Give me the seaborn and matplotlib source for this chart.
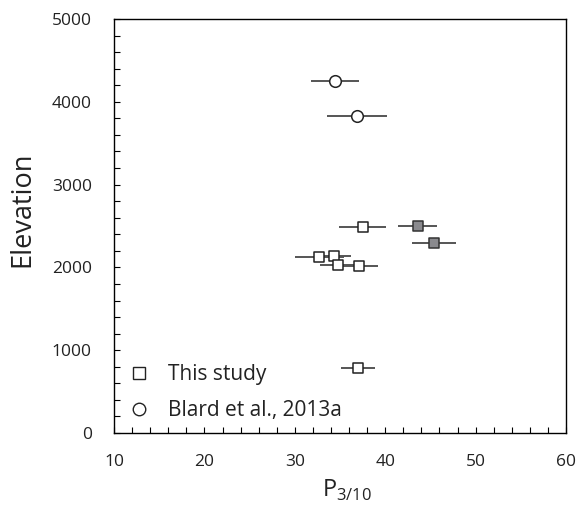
import matplotlib
matplotlib.use("Agg")
import matplotlib.pyplot as plt
from matplotlib.lines import Line2D
from matplotlib.ticker import MultipleLocator
import seaborn as sns
import pandas as pd

# Data
study_p = [37.5, 32.7, 34.3, 34.8, 37.1, 37.0]
study_elev = [2490, 2120, 2140, 2030, 2015, 790]
study_err = [2.6, 2.7, 1.9, 2.0, 2.1, 1.85]

gray_p = [43.6, 45.4]
gray_elev = [2500, 2300]
gray_err = [2.15, 2.4]

blard_p = [34.45, 36.9]
blard_elev = [4255, 3830]
blard_err = [2.65, 3.3]

legend_labels = ["This study", "Blard et al., 2013a"]

sns.set_theme(style="white")
plt.rcParams["font.family"] = ["Open Sans", "DejaVu Sans"]
plt.rcParams["mathtext.fontset"] = "custom"
plt.rcParams["mathtext.rm"] = "Open Sans"

fig = plt.figure(figsize=(5.79, 5.09), dpi=100)
ax = fig.add_axes([0.197, 0.1493, 0.7805, 0.8134])

ecol = "#555555"
for xs, ys, es in [(study_p, study_elev, study_err), (gray_p, gray_elev, gray_err), (blard_p, blard_elev, blard_err)]:
    ax.errorbar(xs, ys, xerr=es, fmt="none", ecolor=ecol, elinewidth=1.4, capsize=0, zorder=1)

df_s = pd.DataFrame({"p": study_p, "elev": study_elev})
df_g = pd.DataFrame({"p": gray_p, "elev": gray_elev})
df_b = pd.DataFrame({"p": blard_p, "elev": blard_elev})

sns.scatterplot(data=df_s, x="p", y="elev", marker="s", s=55, color="white", edgecolor="#222222", linewidth=1.1, ax=ax, zorder=3)
sns.scatterplot(data=df_g, x="p", y="elev", marker="s", s=55, color="#8a8a8e", edgecolor="#333333", linewidth=1.1, ax=ax, zorder=3)
sns.scatterplot(data=df_b, x="p", y="elev", marker="o", s=70, color="white", edgecolor="#222222", linewidth=1.1, ax=ax, zorder=3)

ax.set_xlim(10, 60)
ax.set_ylim(0, 5000)
ax.xaxis.set_major_locator(MultipleLocator(10))
ax.xaxis.set_minor_locator(MultipleLocator(2))
ax.yaxis.set_major_locator(MultipleLocator(1000))
ax.yaxis.set_minor_locator(MultipleLocator(200))
ax.tick_params(axis="both", which="both", direction="in", colors="black", labelcolor="#222222")
ax.tick_params(axis="both", which="major", length=4.5, width=0.8, labelsize=12.5)
ax.tick_params(axis="both", which="minor", length=4, width=0.8)
ax.tick_params(axis="x", which="major", pad=15)
ax.tick_params(axis="y", which="major", pad=16)
ax.tick_params(bottom=True, left=True, top=False, right=False, which="both")

for sp in ax.spines.values():
    sp.set_color("black")
    sp.set_linewidth(1.0)

ax.set_xlabel(r"P$_{\mathregular{3/10}}$", fontsize=17, color="#222222")
ax.xaxis.set_label_coords(0.515, -0.108)
ax.set_ylabel("Elevation", fontsize=19.5, color="#222222")
ax.yaxis.set_label_coords(-0.172, 0.54)

handles = [
    Line2D([], [], linestyle="none", marker="s", markersize=8, markerfacecolor="white", markeredgecolor="#222222", markeredgewidth=1.0),
    Line2D([], [], linestyle="none", marker="o", markersize=9, markerfacecolor="white", markeredgecolor="#222222", markeredgewidth=1.0),
]
ax.legend(handles, legend_labels, loc="lower left", frameon=False, fontsize=15,
          bbox_to_anchor=(0.032, 0.029), borderaxespad=0, borderpad=0,
          handlelength=1.0, handletextpad=0.9, labelspacing=0.7,
          labelcolor="#222222")

fig.savefig("out.png", dpi=100)
